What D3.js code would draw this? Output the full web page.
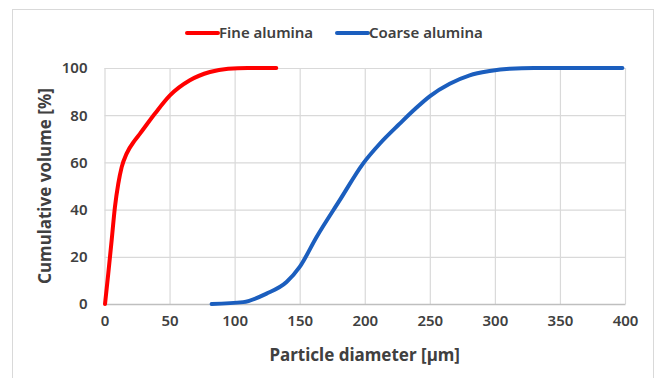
<!DOCTYPE html>
<html>
<head>
<meta charset="utf-8">
<script src="https://cdn.jsdelivr.net/npm/d3@7"></script>
<style>
	body { margin: 0; background: #fff; }
	svg text { font-family: "Noto Sans", "Open Sans", sans-serif; fill: #404040; }
</style>
</head>
<body>
<div id="chart"></div>
<script>
// Fine alumina: diameter [um] and cumulative volume [%].
var fineX = [0.4, 2.9, 5.5, 8, 10.6, 13.2, 17, 23.4, 27.3, 38.8, 50.3, 65.6, 81, 95, 110, 132];
var fineY = [0, 12.9, 27, 41, 51, 58, 63.7, 69.4, 72.2, 80.7, 88.4, 94.8, 98.3, 99.7, 100, 100];

// Coarse alumina.
var coarseX = [82.3, 106.6, 124.5, 139.9, 150, 163, 180.8, 198.7, 211.7, 226.9, 238.4, 249.9, 265.3, 280.6, 296, 311.3, 330, 398];
var coarseY = [0, 0.8, 4.4, 9.3, 15.7, 28.4, 44, 59.5, 68, 76.4, 82.5, 88, 93.3, 96.9, 98.7, 99.7, 100, 100];

var xTicks = [0, 50, 100, 150, 200, 250, 300, 350, 400];
var yTicks = [0, 20, 40, 60, 80, 100];

var seriesNames = ["Fine alumina", "Coarse alumina"];
var seriesColors = ["#ff0000", "#1b5ebe"];

{
	var width = 666,
		height = 378,
		margin = {
			top: 68,
			right: 41,
			bottom: 74,
			left: 104.5
		};

	var svg = d3.select("#chart").append("svg")
		.attr("width", width)
		.attr("height", height);

	// Chart frame.
	svg.append("rect")
		.attr("x", 12.5)
		.attr("y", 9.5)
		.attr("width", 641)
		.attr("height", 400)
		.attr("fill", "none")
		.attr("stroke", "#d9d9d9");

	var x = d3.scaleLinear()
		.domain([0, 400])
		.range([margin.left, width - margin.right]);

	var y = d3.scaleLinear()
		.domain([0, 100])
		.range([height - margin.bottom, margin.top]);

	// Grid lines.
	svg.append("g")
		.attr("transform", "translate(0," + y(0) + ")")
		.call(d3.axisBottom(x).tickValues(xTicks).tickSize(y(100) - y(0)).tickFormat(""))
		.call(g => g.select(".domain").remove())
		.selectAll("line")
		.attr("stroke", "#d9d9d9")
		.attr("stroke-width", 1.2);

	svg.append("g")
		.attr("transform", "translate(" + x(0) + ",0)")
		.call(d3.axisLeft(y).tickValues(yTicks).tickSize(x(0) - x(400)).tickFormat(""))
		.call(g => g.select(".domain").remove())
		.selectAll("line")
		.attr("stroke", "#d9d9d9")
		.attr("stroke-width", 1.2);

	// Bottom axis line and labels.
	var xAxis = svg.append("g")
		.attr("transform", "translate(0," + y(0) + ")")
		.call(d3.axisBottom(x).tickValues(xTicks).tickSize(0).tickPadding(11));
	xAxis.select(".domain").attr("stroke", "#bfbfbf").attr("stroke-width", 1.3);
	xAxis.selectAll("text")
		.style("font-size", "15px")
		.style("font-weight", "600")
		.attr("fill", "#404040");

	var yAxis = svg.append("g")
		.attr("transform", "translate(" + x(0) + ",0)")
		.call(d3.axisLeft(y).tickValues(yTicks).tickSize(0).tickPadding(17));
	yAxis.select(".domain").remove();
	yAxis.selectAll("text")
		.style("font-size", "15px")
		.style("font-weight", "600")
		.attr("fill", "#404040");

	// Axis titles.
	svg.append("text")
		.attr("x", (x(0) + x(400)) / 2)
		.attr("y", 361)
		.attr("text-anchor", "middle")
		.style("font-size", "17px")
		.style("font-weight", "bold")
		.text("Particle diameter [µm]");

	svg.append("text")
		.attr("transform", "translate(51," + (y(0) + y(100)) / 2 + ") rotate(-90)")
		.attr("text-anchor", "middle")
		.style("font-size", "17px")
		.style("font-weight", "bold")
		.text("Cumulative volume [%]");

	// Curves.
	var line = d3.line()
		.x(d => x(d[0]))
		.y(d => y(d[1]))
		.curve(d3.curveMonotoneX);

	var series = [
		d3.zip(fineX, fineY),
		d3.zip(coarseX, coarseY)
	];

	svg.selectAll(".curve")
		.data(series)
		.enter().append("path")
		.attr("class", "curve")
		.attr("d", line)
		.attr("fill", "none")
		.attr("stroke", (d, i) => seriesColors[i])
		.attr("stroke-width", 4)
		.attr("stroke-linecap", "round")
		.attr("stroke-linejoin", "round");

	// Legend.
	var legendX = [187, 337];
	var legend = svg.selectAll(".legend")
		.data(seriesNames)
		.enter().append("g")
		.attr("class", "legend")
		.attr("transform", (d, i) => "translate(" + legendX[i] + ",33)");

	legend.append("line")
		.attr("x1", 0)
		.attr("x2", 31)
		.attr("stroke", (d, i) => seriesColors[i])
		.attr("stroke-width", 4)
		.attr("stroke-linecap", "round");

	legend.append("text")
		.attr("x", 32)
		.attr("dy", "0.35em")
		.style("font-size", "15px")
		.style("font-weight", "600")
		.text(d => d);
}
</script>
</body>
</html>
